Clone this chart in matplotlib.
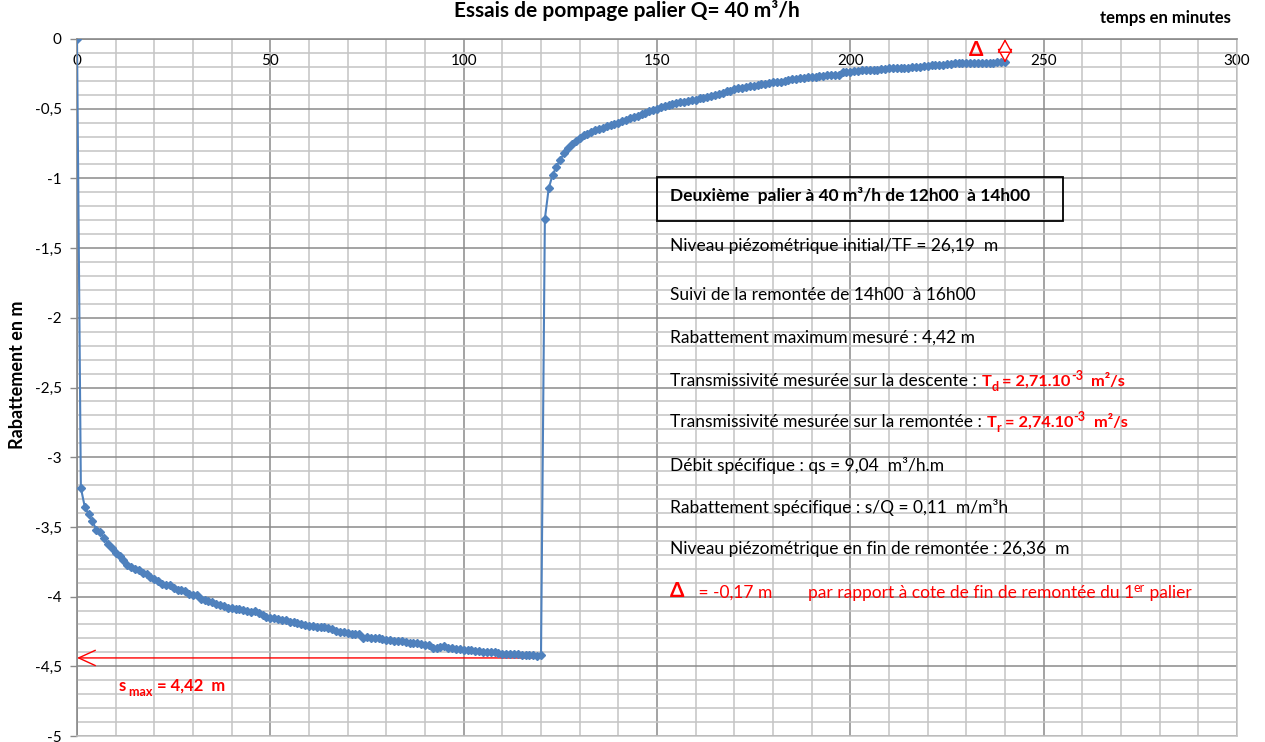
import matplotlib
matplotlib.use("Agg")
import matplotlib.pyplot as plt
from matplotlib.patches import Rectangle
from matplotlib.ticker import MultipleLocator, FuncFormatter

plt.rcParams['font.family'] = ['Lato', 'DejaVu Sans']

# temps (min) et rabattement (m) - descente puis remontee
t_down = list(range(0, 121))
s_down = [0, -3.22, -3.355, -3.41, -3.46, -3.52, -3.54, -3.58, -3.62, -3.65,
          -3.685, -3.71, -3.74, -3.77, -3.785, -3.80, -3.81, -3.83, -3.84, -3.86,
          -3.875, -3.89, -3.91, -3.915, -3.92, -3.935, -3.95, -3.955, -3.96, -3.98,
          -3.99, -3.99, -4.02, -4.025, -4.035, -4.04, -4.055, -4.06, -4.07, -4.08,
          -4.085, -4.09, -4.09, -4.095, -4.10, -4.11, -4.105, -4.12, -4.135, -4.145,
          -4.15, -4.155, -4.16, -4.17, -4.17, -4.18, -4.185, -4.19, -4.20, -4.205,
          -4.21, -4.21, -4.215, -4.22, -4.22, -4.225, -4.23, -4.25, -4.255, -4.255,
          -4.26, -4.265, -4.265, -4.27, -4.295, -4.29, -4.295, -4.295, -4.30, -4.305,
          -4.31, -4.31, -4.315, -4.32, -4.32, -4.325, -4.33, -4.33, -4.335, -4.34,
          -4.345, -4.35, -4.37, -4.37, -4.36, -4.355, -4.37, -4.37, -4.375, -4.375,
          -4.38, -4.38, -4.385, -4.39, -4.39, -4.395, -4.395, -4.40, -4.40, -4.405,
          -4.41, -4.41, -4.415, -4.415, -4.415, -4.42, -4.42, -4.42, -4.42, -4.425,
          -4.42]
t_up = list(range(121, 241))
s_up = [-1.29, -1.07, -0.975, -0.915, -0.865, -0.82, -0.785, -0.755, -0.73, -0.71,
        -0.69, -0.68, -0.665, -0.655, -0.645, -0.635, -0.625, -0.615, -0.61, -0.60,
        -0.59, -0.58, -0.57, -0.56, -0.55, -0.54, -0.53, -0.52, -0.51, -0.50,
        -0.49, -0.48, -0.475, -0.465, -0.46, -0.455, -0.45, -0.445, -0.44, -0.435,
        -0.425, -0.42, -0.415, -0.41, -0.40, -0.395, -0.385, -0.375, -0.37, -0.36,
        -0.355, -0.35, -0.345, -0.34, -0.335, -0.33, -0.325, -0.32, -0.315, -0.31,
        -0.31, -0.305, -0.30, -0.295, -0.29, -0.285, -0.28, -0.28, -0.275, -0.27,
        -0.27, -0.265, -0.265, -0.26, -0.26, -0.26, -0.255, -0.24, -0.235, -0.235,
        -0.23, -0.23, -0.225, -0.225, -0.225, -0.22, -0.22, -0.215, -0.215, -0.21,
        -0.21, -0.21, -0.205, -0.205, -0.205, -0.20, -0.20, -0.20, -0.195, -0.195,
        -0.19, -0.19, -0.185, -0.185, -0.18, -0.18, -0.175, -0.175, -0.175, -0.175,
        -0.175, -0.175, -0.175, -0.175, -0.17, -0.17, -0.17, -0.165, -0.165, -0.165]

s_max_line = -4.44
delta = -0.17

blue = '#4f81bd'
red = '#ff0000'

fig = plt.figure(figsize=(12.65, 7.42), dpi=100)
ax = fig.add_axes([77 / 1265, 1 - 736 / 742, 1160 / 1265, 697 / 742])

ax.plot(t_down + t_up, s_down + s_up, color=blue, lw=1.5, marker='D', ms=3.6,
        mec=blue, mfc=blue, zorder=5)

ax.set_xlim(0, 300)
ax.set_ylim(-5, 0)
ax.xaxis.set_major_locator(MultipleLocator(50))
ax.xaxis.set_minor_locator(MultipleLocator(10))
ax.yaxis.set_major_locator(MultipleLocator(0.5))
ax.yaxis.set_minor_locator(MultipleLocator(0.1))
ax.grid(which='minor', color='#c4c4c4', lw=1.1)
ax.grid(which='major', color='#8a8a8a', lw=1.1)
ax.set_axisbelow(True)

ax.yaxis.set_major_formatter(FuncFormatter(lambda v, p: ('%g' % v).replace('.', ',')))
ax.tick_params(axis='y', which='major', length=5, width=1, color='#8a8a8a',
               labelsize=11, pad=6)
ax.tick_params(axis='y', which='minor', length=0)
ax.tick_params(axis='x', which='both', bottom=False, labelbottom=False,
               top=True, labeltop=True, length=0, labelsize=11, pad=-21)

for side in ['top', 'left']:
    ax.spines[side].set_color('#8a8a8a')
    ax.spines[side].set_linewidth(1.2)
for side in ['bottom', 'right']:
    ax.spines[side].set_color('#c4c4c4')
    ax.spines[side].set_linewidth(1.1)

# titres
fig.text(627 / 1265, 1 - 17 / 742, 'Essais de pompage palier Q= 40 m³/h', ha='center',
         va='baseline', fontsize=15, fontweight='bold')
fig.text(1165 / 1265, 1 - 18 / 742, 'temps en minutes', ha='center', va='center',
         fontsize=12, fontweight='bold')
fig.text(18 / 1265, 1 - 375 / 742, 'Rabattement en m', ha='center', va='center',
         rotation=90, fontsize=13, fontweight='bold')

# s max
ax.annotate('', xy=(0, s_max_line), xytext=(t_down[-1], s_max_line),
            arrowprops=dict(arrowstyle='->,head_length=1.2,head_width=0.55',
                            color=red, lw=1.0, shrinkA=0, shrinkB=0))


def chain(x, y, parts):
    first = fig.text(x, y, parts[0][0], va='center', ha='left', **parts[0][1])
    prev = first
    for s, kw in parts[1:]:
        kw = dict(kw)
        dy = kw.pop('dy', 0)
        prev = ax.annotate(s, xy=(1, 0), xycoords=(prev, first), xytext=(0, dy),
                           textcoords='offset points', va='bottom', ha='left', **kw)
    return first


fs = 12.5
fsub = 9
k = dict(fontsize=fs)
rb = dict(fontsize=11.8, color=red, fontweight='bold')
rn = dict(fontsize=fs, color=red)

chain(119 / 1265, 1 - 686 / 742, [
    ('s', dict(fontsize=12, color=red, fontweight='bold')),
    (' max', dict(fontsize=9, color=red, fontweight='bold', dy=-3)),
    (' = 4,42  m', dict(fontsize=12, color=red, fontweight='bold'))])

# encadre
fig.add_artist(Rectangle((657 / 1265, 1 - 221 / 742), 406 / 1265, 44 / 742,
                         transform=fig.transFigure, fill=False, ec='black', lw=1.3))

x0 = 670 / 1265
chain(x0, 1 - 196 / 742, [('Deuxième  palier à 40 m³/h de 12h00  à 14h00',
                          dict(fontsize=fs, fontweight='bold'))])
chain(x0, 1 - 246 / 742, [('Niveau piézométrique initial/TF = 26,19  m', k)])
chain(x0, 1 - 295 / 742, [('Suivi de la remontée de 14h00  à 16h00', k)])
chain(x0, 1 - 338 / 742, [('Rabattement maximum mesuré : 4,42 m', k)])
chain(x0, 1 - 381 / 742, [
    ('Transmissivité mesurée sur la descente : ', k), ('T', rb),
    ('d', dict(fontsize=fsub, color=red, fontweight='bold', dy=-3)),
    (' = 2,71.10', rb), ('-3', dict(fontsize=fsub, color=red, fontweight='bold', dy=5)),
    ('  m²/s', rb)])
chain(x0, 1 - 422 / 742, [
    ('Transmissivité mesurée sur la remontée : ', k), ('T', rb),
    ('r', dict(fontsize=fsub, color=red, fontweight='bold', dy=-3)),
    (' = 2,74.10', rb), ('-3', dict(fontsize=fsub, color=red, fontweight='bold', dy=5)),
    ('  m²/s', rb)])
chain(x0, 1 - 465 / 742, [('Débit spécifique : qs = 9,04  m³/h.m', k)])
chain(x0, 1 - 507 / 742, [('Rabattement spécifique : s/Q = 0,11  m/m³h', k)])
chain(x0, 1 - 549 / 742, [('Niveau piézométrique en fin de remontée : 26,36  m', k)])
chain(x0, 1 - 591 / 742, [
    ('Δ', dict(fontsize=15, color=red, fontweight='bold')),
    ('   = -0,17 m', rn), ('        par rapport à cote de fin de remontée du 1', rn),
    ('er', dict(fontsize=fsub, color=red, dy=5)), (' palier', rn)])

# delta en haut
fig.text(976 / 1265, 1 - 50 / 742, 'Δ', ha='center', va='center', fontsize=15,
         color=red, fontweight='bold')
ax.annotate('', xy=(t_up[-1], 0), xytext=(t_up[-1], delta),
            arrowprops=dict(arrowstyle='<|-|>,head_length=0.85,head_width=0.47',
                            mutation_scale=10, fc='white', ec=red, lw=1.0,
                            shrinkA=0, shrinkB=0), zorder=6)

fig.savefig('out.png', dpi=100)
